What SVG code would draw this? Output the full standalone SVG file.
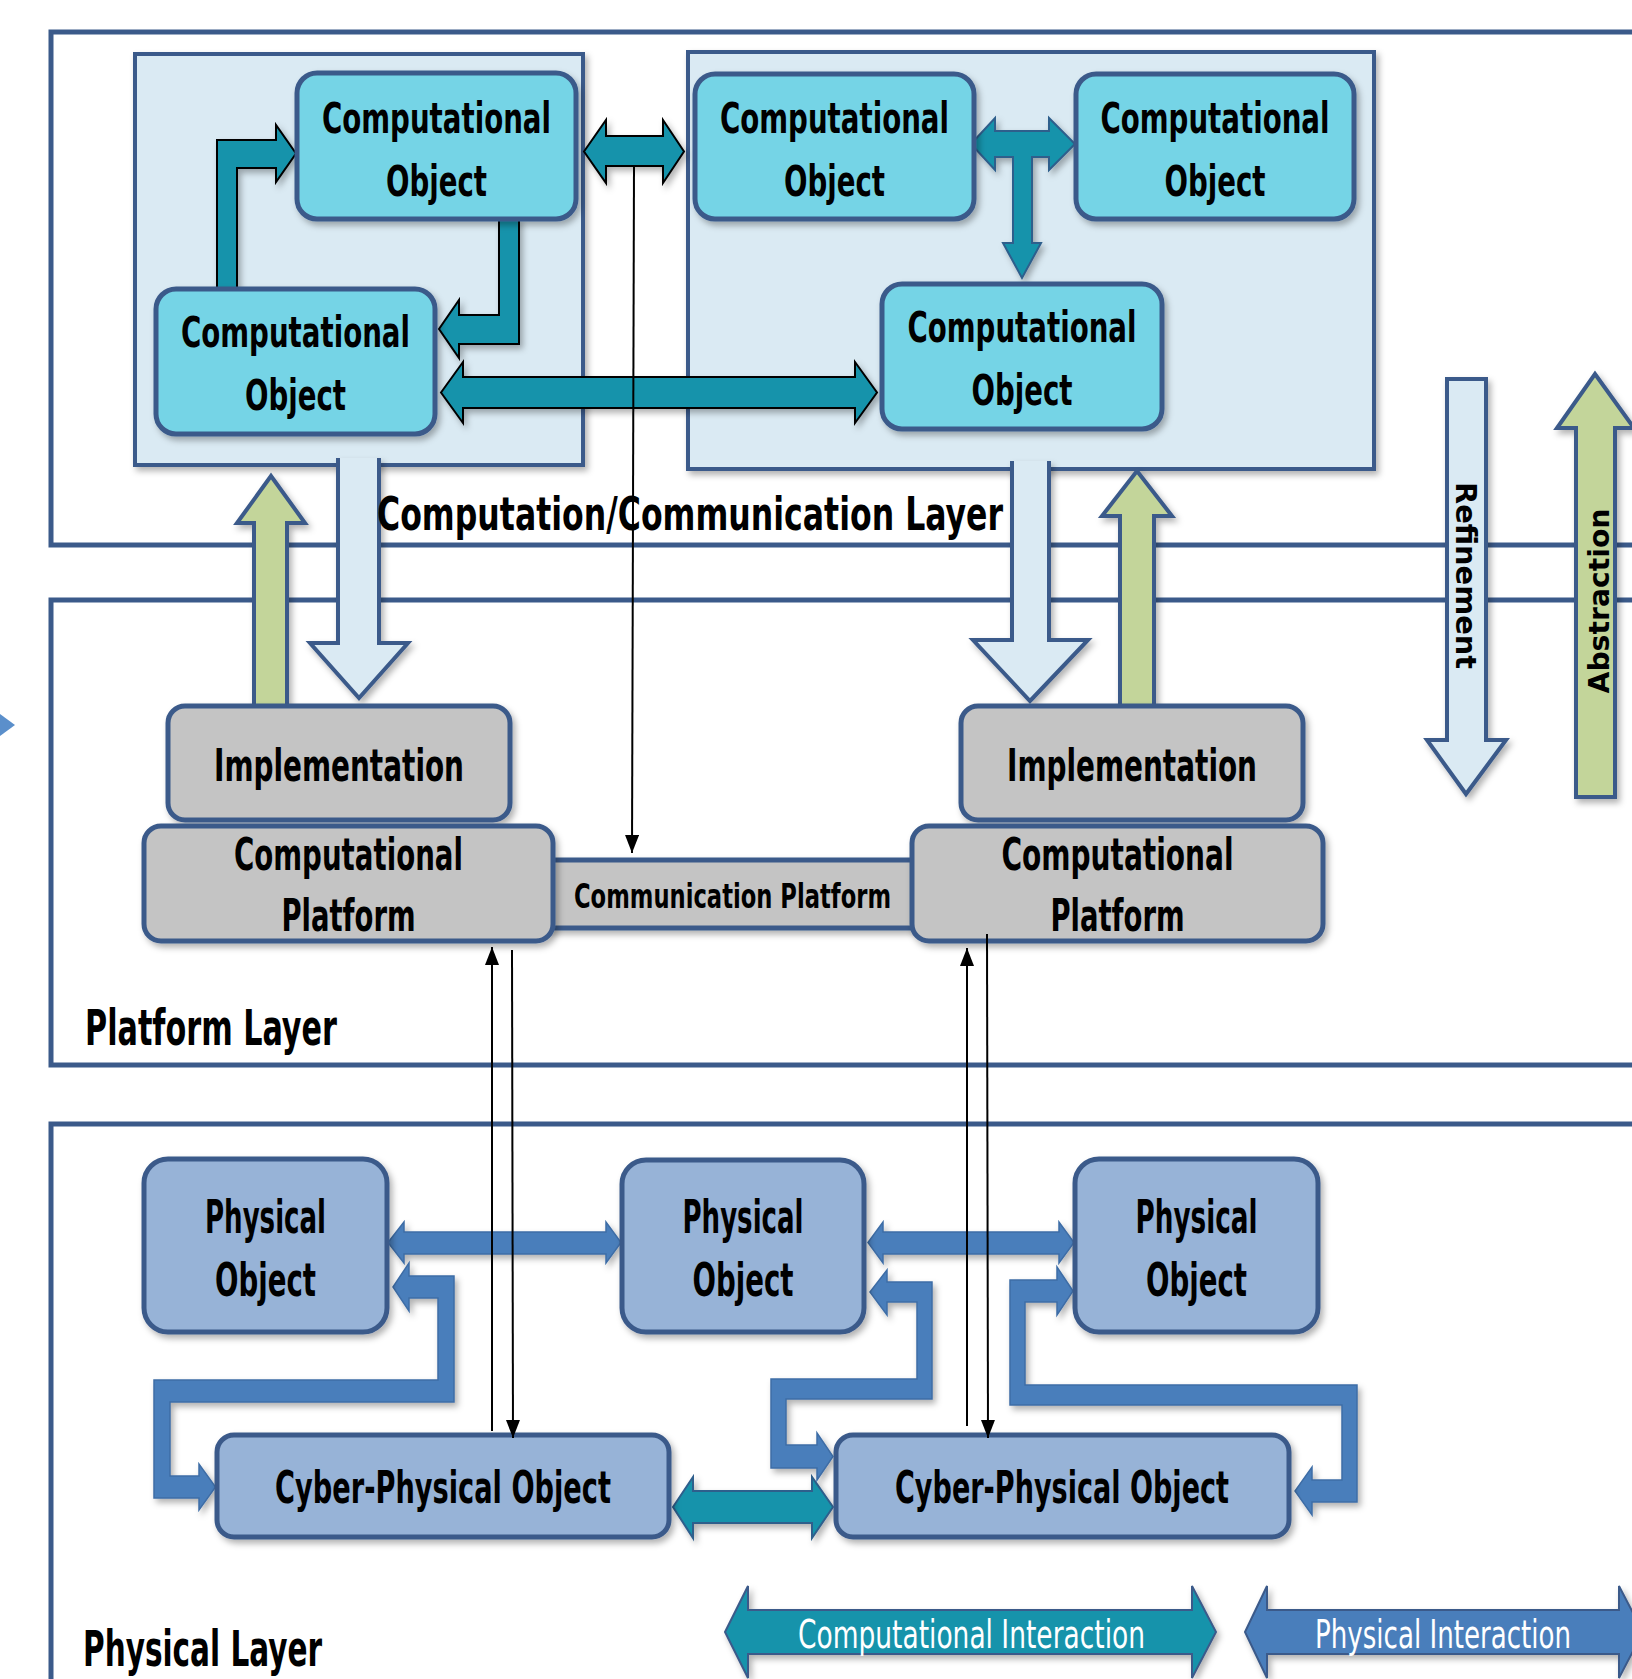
<svg xmlns="http://www.w3.org/2000/svg" width="1632" height="1679" viewBox="0 0 1632 1679">
<style>
.layer{fill:none;stroke:#3B5A8A;stroke-width:5}
.inner{fill:#DAEAF3;stroke:#3B5A8A;stroke-width:4}
.co{fill:#75D4E6;stroke:#3B5A8A;stroke-width:5}
.gray{fill:#C4C4C4;stroke:#3B5A8A;stroke-width:5}
.po{fill:#97B3D7;stroke:#3B5A8A;stroke-width:5}
.teal{fill:#1793AB;stroke:#000;stroke-width:2;stroke-linejoin:miter}
.teal2{fill:#1793AB;stroke:#2E5F8C;stroke-width:2}
.blue{fill:#4A7EBB;stroke:#3E6DA6;stroke-width:1.5}
.lb{fill:#DAEAF3;stroke:#3B5A8A;stroke-width:4}
.gr{fill:#C3D59A;stroke:#3B5A8A;stroke-width:4}
.thin{fill:none;stroke:#000;stroke-width:2}
.t{font-family:"Liberation Sans Narrow","DejaVu Sans Condensed","Liberation Sans",Arial,sans-serif;font-weight:bold;fill:#000;text-anchor:middle}
.lbl{font-family:"Liberation Sans Narrow","DejaVu Sans Condensed","Liberation Sans",Arial,sans-serif;font-weight:bold;fill:#000}
.leg{font-family:"Liberation Sans Narrow","DejaVu Sans Condensed","Liberation Sans",Arial,sans-serif;font-weight:normal;fill:#fff;text-anchor:middle}
.rot{font-family:"DejaVu Sans",Verdana,sans-serif;font-weight:bold;font-size:28px;fill:#000;text-anchor:middle}
</style>
<defs>
<filter id="sh" x="-10%" y="-10%" width="130%" height="140%">
<feDropShadow dx="3" dy="4" stdDeviation="3" flood-color="#000" flood-opacity="0.3"/>
</filter>
<marker id="ah" viewBox="0 0 18 14" refX="18" refY="7" markerWidth="18" markerHeight="14" markerUnits="userSpaceOnUse" orient="auto">
<path d="M0,0 L18,7 L0,14 z" fill="#000"/>
</marker>
</defs>
<rect width="1632" height="1679" fill="#fff"/>

<g id="layers">
<rect id="layer-comp" class="layer" x="51" y="32" width="1700" height="513"/>
<rect id="layer-platform" class="layer" x="51" y="600" width="1700" height="465"/>
<rect id="layer-physical" class="layer" x="51" y="1124" width="1700" height="700"/>
</g>

<polygon id="edge-marker" points="0,714 15,725 0,736" fill="#5B8FCB"/>

<g id="containers">
<rect id="container-left" class="inner" x="135" y="54" width="448" height="411" filter="url(#sh)"/>
<rect id="container-right" class="inner" x="688" y="52" width="686" height="417" filter="url(#sh)"/>
</g>

<g id="connectors">
<path class="lb" d="M338,458 V643 H310 L359,698 L408,643 H379 V458" filter="url(#sh)"/>
<path class="lb" d="M1012,461 V640 H973 L1030,701 L1088,640 H1049 V461" filter="url(#sh)"/>
<path class="gr" d="M254,712 V523 H237 L271,476 L305,523 H287 V712" filter="url(#sh)"/>
<path class="gr" d="M1120,712 V516 H1102 L1137,471 L1172,516 H1154 V712" filter="url(#sh)"/>

<polygon class="teal" points="217,288 217,140 276,140 276,125 296,153.5 276,182 276,168 237,168 237,288" filter="url(#sh)"/>
<polygon class="teal" points="499,219 519,219 519,344 459,344 459,358 439,329 459,300 459,315 499,315" filter="url(#sh)"/>
<polygon class="teal" points="441,392.5 463,362 463,377 855,377 855,362 877,392.5 855,423 855,408 463,408 463,423" filter="url(#sh)"/>
<polygon class="teal" points="584,151.5 606,120 606,136 663,136 663,120 684,151.5 663,183 663,166 606,166 606,183" filter="url(#sh)"/>
<polygon class="teal2" points="971,144 995,118 995,131 1049,131 1049,118 1075,144 1049,170 1049,157 1032,157 1032,243 1041,243 1022,278 1003,243 1013,243 1013,157 995,157 995,170" filter="url(#sh)"/>
<polygon class="teal2" points="673,1507 693,1477 693,1491 812,1491 812,1477 833,1507 812,1538 812,1523 693,1523 693,1538" filter="url(#sh)"/>

<polygon class="blue" points="388,1242.5 404,1222 404,1232 606,1232 606,1222 621,1242.5 606,1263 606,1254 404,1254 404,1263" filter="url(#sh)"/>
<polygon class="blue" points="868,1242.5 883,1222 883,1232 1059,1232 1059,1222 1074,1242.5 1059,1263 1059,1254 883,1254 883,1263" filter="url(#sh)"/>
<polygon class="blue" points="393,1287 409,1263 409,1276 454,1276 454,1402 170,1402 170,1476 199,1476 199,1464 215.5,1487 199,1510 199,1498 154,1498 154,1380 438,1380 438,1298 409,1298 409,1311" filter="url(#sh)"/>
<polygon class="blue" points="870,1292 887,1270 887,1282 932,1282 932,1399 786,1399 786,1445 817,1445 817,1433 833,1456.5 817,1480 817,1468 771,1468 771,1379 917,1379 917,1302 887,1302 887,1315" filter="url(#sh)"/>
<polygon class="blue" points="1073,1291 1057,1267 1057,1280 1010,1280 1010,1405 1342,1405 1342,1480 1312,1480 1312,1467 1295,1491 1312,1515 1312,1502 1357,1502 1357,1385 1025,1385 1025,1302 1057,1302 1057,1315" filter="url(#sh)"/>
</g>

<g id="nodes-computation">
<g id="co1"><rect class="co" x="297" y="73" width="279" height="146" rx="20" filter="url(#sh)"/>
<text class="t" x="436.5" y="133" font-size="43" textLength="229" lengthAdjust="spacingAndGlyphs">Computational</text>
<text class="t" x="436.5" y="196" font-size="43" textLength="101" lengthAdjust="spacingAndGlyphs">Object</text></g>
<g id="co2"><rect class="co" x="156" y="289" width="279" height="145" rx="20" filter="url(#sh)"/>
<text class="t" x="295.5" y="347" font-size="43" textLength="229" lengthAdjust="spacingAndGlyphs">Computational</text>
<text class="t" x="295.5" y="410" font-size="43" textLength="101" lengthAdjust="spacingAndGlyphs">Object</text></g>
<g id="co3"><rect class="co" x="695" y="74" width="279" height="145" rx="20" filter="url(#sh)"/>
<text class="t" x="834.5" y="133" font-size="43" textLength="229" lengthAdjust="spacingAndGlyphs">Computational</text>
<text class="t" x="834.5" y="196" font-size="43" textLength="101" lengthAdjust="spacingAndGlyphs">Object</text></g>
<g id="co4"><rect class="co" x="1076" y="74" width="278" height="145" rx="20" filter="url(#sh)"/>
<text class="t" x="1215" y="133" font-size="43" textLength="229" lengthAdjust="spacingAndGlyphs">Computational</text>
<text class="t" x="1215" y="196" font-size="43" textLength="101" lengthAdjust="spacingAndGlyphs">Object</text></g>
<g id="co5"><rect class="co" x="882" y="284" width="280" height="145" rx="20" filter="url(#sh)"/>
<text class="t" x="1022" y="342" font-size="43" textLength="229" lengthAdjust="spacingAndGlyphs">Computational</text>
<text class="t" x="1022" y="405" font-size="43" textLength="101" lengthAdjust="spacingAndGlyphs">Object</text></g>
</g>

<text id="label-comp-layer" class="lbl" x="377" y="530" font-size="47" textLength="626" lengthAdjust="spacingAndGlyphs">Computation/Communication Layer</text>

<g id="nodes-platform">
<g id="comm-platform"><rect class="gray" x="540" y="860" width="385" height="68" filter="url(#sh)"/>
<text class="t" x="732.5" y="908" font-size="34" textLength="317" lengthAdjust="spacingAndGlyphs">Communication Platform</text></g>
<g id="impl1"><rect class="gray" x="168" y="706" width="342" height="114" rx="17" filter="url(#sh)"/>
<text class="t" x="339" y="781" font-size="44" textLength="250" lengthAdjust="spacingAndGlyphs">Implementation</text></g>
<g id="impl2"><rect class="gray" x="961" y="706" width="342" height="114" rx="17" filter="url(#sh)"/>
<text class="t" x="1132" y="781" font-size="44" textLength="250" lengthAdjust="spacingAndGlyphs">Implementation</text></g>
<g id="cp1"><rect class="gray" x="144" y="826" width="409" height="115" rx="17" filter="url(#sh)"/>
<text class="t" x="348.5" y="870" font-size="44" textLength="229" lengthAdjust="spacingAndGlyphs">Computational</text>
<text class="t" x="348.5" y="931" font-size="44" textLength="134" lengthAdjust="spacingAndGlyphs">Platform</text></g>
<g id="cp2"><rect class="gray" x="912" y="826" width="411" height="115" rx="17" filter="url(#sh)"/>
<text class="t" x="1117.5" y="870" font-size="44" textLength="232" lengthAdjust="spacingAndGlyphs">Computational</text>
<text class="t" x="1117.5" y="931" font-size="44" textLength="134" lengthAdjust="spacingAndGlyphs">Platform</text></g>
</g>

<text id="label-platform-layer" class="lbl" x="85" y="1045" font-size="50" textLength="252" lengthAdjust="spacingAndGlyphs">Platform Layer</text>

<g id="nodes-physical">
<g id="po1"><rect class="po" x="144" y="1159" width="243" height="173" rx="24" filter="url(#sh)"/>
<text class="t" x="265.5" y="1233" font-size="46" textLength="121" lengthAdjust="spacingAndGlyphs">Physical</text>
<text class="t" x="265.5" y="1296" font-size="46" textLength="101" lengthAdjust="spacingAndGlyphs">Object</text></g>
<g id="po2"><rect class="po" x="622" y="1160" width="242" height="172" rx="24" filter="url(#sh)"/>
<text class="t" x="743" y="1233" font-size="46" textLength="121" lengthAdjust="spacingAndGlyphs">Physical</text>
<text class="t" x="743" y="1296" font-size="46" textLength="101" lengthAdjust="spacingAndGlyphs">Object</text></g>
<g id="po3"><rect class="po" x="1075" y="1159" width="243" height="173" rx="24" filter="url(#sh)"/>
<text class="t" x="1196.5" y="1233" font-size="46" textLength="122" lengthAdjust="spacingAndGlyphs">Physical</text>
<text class="t" x="1196.5" y="1296" font-size="46" textLength="101" lengthAdjust="spacingAndGlyphs">Object</text></g>
<g id="cpo1"><rect class="po" x="217" y="1435" width="452" height="102" rx="17" filter="url(#sh)"/>
<text class="t" x="443" y="1503" font-size="44" textLength="336" lengthAdjust="spacingAndGlyphs">Cyber-Physical Object</text></g>
<g id="cpo2"><rect class="po" x="836" y="1435" width="453" height="102" rx="17" filter="url(#sh)"/>
<text class="t" x="1062" y="1503" font-size="44" textLength="334" lengthAdjust="spacingAndGlyphs">Cyber-Physical Object</text></g>
</g>

<g id="thin-connectors">
<line class="thin" x1="634" y1="166" x2="632" y2="853" marker-end="url(#ah)"/>
<line class="thin" x1="492" y1="1431" x2="492" y2="947" marker-end="url(#ah)"/>
<line class="thin" x1="512" y1="950" x2="513" y2="1438" marker-end="url(#ah)"/>
<line class="thin" x1="967" y1="1426" x2="967" y2="948" marker-end="url(#ah)"/>
<line class="thin" x1="987" y1="934" x2="988" y2="1438" marker-end="url(#ah)"/>
</g>

<text id="label-physical-layer" class="lbl" x="83" y="1666" font-size="49" textLength="239" lengthAdjust="spacingAndGlyphs">Physical Layer</text>

<g id="refinement">
<polygon class="lb" points="1447,379 1486,379 1486,740 1506,740 1466,794 1427,740 1447,740" filter="url(#sh)"/>
<text class="rot" transform="translate(1456,575.5) rotate(90)" textLength="187" lengthAdjust="spacingAndGlyphs">Refinement</text>
</g>
<g id="abstraction">
<polygon class="gr" points="1576,797 1576,428 1557,428 1595,374 1634,428 1615,428 1615,797" filter="url(#sh)"/>
<text class="rot" transform="translate(1609,601) rotate(-90)" textLength="185" lengthAdjust="spacingAndGlyphs">Abstraction</text>
</g>

<g id="legend">
<g id="legend-comp"><polygon fill="#1793AB" stroke="#3B5A8A" stroke-width="2" points="725,1632 748,1586 748,1610 1192,1610 1192,1586 1216,1632 1192,1678 1192,1654 748,1654 748,1678" filter="url(#sh)"/>
<text class="leg" x="971.5" y="1648" font-size="39" textLength="347" lengthAdjust="spacingAndGlyphs">Computational Interaction</text></g>
<g id="legend-phys"><polygon fill="#4A7EBB" stroke="#3B5A8A" stroke-width="2" points="1245,1632 1267,1586 1267,1610 1619,1610 1619,1586 1643,1632 1619,1678 1619,1654 1267,1654 1267,1678" filter="url(#sh)"/>
<text class="leg" x="1443" y="1648" font-size="39" textLength="256" lengthAdjust="spacingAndGlyphs">Physical Interaction</text></g>
</g>
</svg>
